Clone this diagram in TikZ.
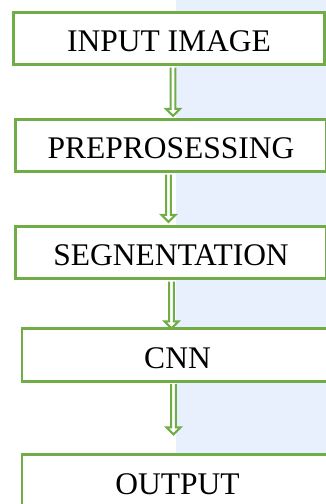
\documentclass[tikz,border=0pt]{standalone}
\usepackage{fontspec}
\setmainfont{Liberation Serif}
\definecolor{boxgreen}{RGB}{112,173,71}
\definecolor{wmblue}{RGB}{231,240,252}

\begin{document}
\begin{tikzpicture}[x=1pt,y=-1pt,node distance=107pt,
    block/.style={draw=boxgreen, line width=2.8pt, fill=white, inner sep=0pt,
        minimum width=311pt, minimum height=52.5pt, text height=26pt, text depth=0pt,
        font=\fontsize{31.5}{36}\selectfont},
    hollow/.style={draw=boxgreen, line width=2pt, fill=white, line join=miter,
        to path={([xshift=-2.3pt]\tikztostart) -- ([xshift=-2.3pt,yshift=7pt]\tikztotarget)
            -- ([xshift=-7pt,yshift=7pt]\tikztotarget) -- (\tikztotarget)
            -- ([xshift=7pt,yshift=7pt]\tikztotarget) -- ([xshift=2.3pt,yshift=7pt]\tikztotarget)
            -- ([xshift=2.3pt]\tikztostart)}}]
    \useasboundingbox (0,0) rectangle (326,504);
    \clip (0,0) rectangle (326,504);
    \fill [wmblue] (176,0) rectangle (326,453);

    \node [block] (a) at (169,38.5) {INPUT IMAGE};
    \node [block, below of=a, xshift=2pt] (b) {PREPROSESSING};
    \node [block, below of=b] (c) {SEGNENTATION};
    \node [block, below of=c, node distance=102.5pt, xshift=6.5pt] (d) {CNN};
    \node [block, below of=d, node distance=126pt] (e) {OUTPUT};

    % arrows between the boxes
    \coordinate (s1) at ([xshift=4pt,yshift=-1.4pt]a.south);
    \coordinate (t1) at ([yshift=2pt]s1 |- b.north);
    \coordinate (s2) at ([xshift=-2.5pt,yshift=-1.4pt]b.south);
    \coordinate (t2) at ([yshift=3pt]s2 |- c.north);
    \coordinate (s3) at ([xshift=0.5pt,yshift=-1.4pt]c.south);
    \coordinate (t3) at ([yshift=-1pt]s3 |- d.north);
    \coordinate (s4) at ([xshift=-4pt,yshift=-1.4pt]d.south);
    \coordinate (t4) at ([yshift=19pt]s4 |- e.north);
    \path [hollow] (s1) to (t1);
    \path [hollow] (s2) to (t2);
    \path [hollow] (s3) to (t3);
    \path [hollow] (s4) to (t4);
\end{tikzpicture}
\end{document}
